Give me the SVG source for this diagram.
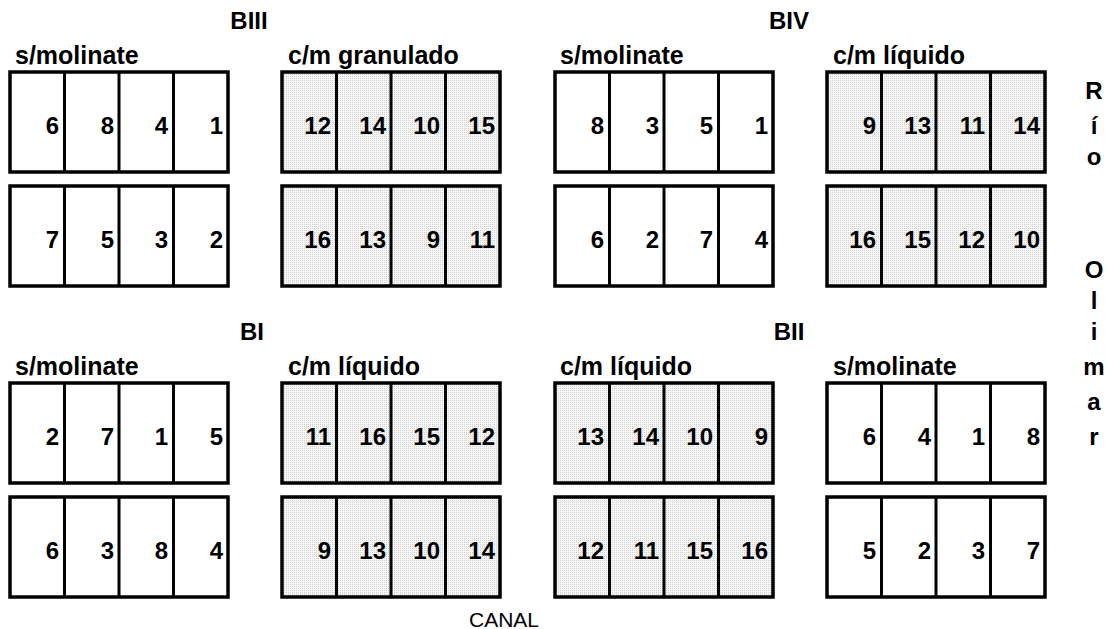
<svg xmlns="http://www.w3.org/2000/svg" width="1107" height="629" viewBox="0 0 1107 629">
<style>
text{font-family:"Liberation Sans",Arial,sans-serif;font-weight:bold;fill:#000}
.n{font-size:24px;text-anchor:end}
.l{font-size:25px}
.b{font-size:24px;text-anchor:middle}
.r{font-size:24px;text-anchor:middle}
.c{font-size:21px;font-weight:normal}
.box{stroke:#000;stroke-width:3.5}
.w{fill:#fff}
.s{fill:url(#dots)}
.d{stroke:#000;stroke-width:3}
</style>
<defs>
<pattern id="dots" width="2" height="2" patternUnits="userSpaceOnUse">
<rect width="2" height="2" fill="#f6f6f6"/>
<rect width="1" height="1" fill="#d2d2d2"/>
</pattern>
</defs>
<rect width="1107" height="629" fill="#fff"/>
<g id="labels">
<text class="b" x="249" y="29">BIII</text>
<text class="b" x="789" y="29">BIV</text>
<text class="l" x="15" y="64">s/molinate</text>
<text class="l" x="288" y="64">c/m granulado</text>
<text class="l" x="560" y="64">s/molinate</text>
<text class="l" x="833" y="64">c/m líquido</text>
<text class="b" x="252" y="340">BI</text>
<text class="b" x="789" y="340">BII</text>
<text class="l" x="15" y="375">s/molinate</text>
<text class="l" x="288" y="375">c/m líquido</text>
<text class="l" x="560" y="375">c/m líquido</text>
<text class="l" x="833" y="375">s/molinate</text>
<text class="c" x="469" y="627">CANAL</text>
</g>
<g id="rio">
<text class="r" x="1094" y="99">R</text>
<text class="r" x="1094" y="134">í</text>
<text class="r" x="1094" y="165">o</text>
<text class="r" x="1094" y="278">O</text>
<text class="r" x="1094" y="309">l</text>
<text class="r" x="1094" y="340">i</text>
<text class="r" x="1094" y="375">m</text>
<text class="r" x="1094" y="410">a</text>
<text class="r" x="1094" y="445">r</text>
</g>
<g id="connectors"/>
<!-- Row 1 -->
<g id="r1b1"><rect class="box w" x="10" y="72" width="218" height="100"/><path class="d" d="M64.5 72V172M119 72V172M173.5 72V172"/>
<text class="n" x="59" y="134">6</text><text class="n" x="114" y="134">8</text><text class="n" x="168" y="134">4</text><text class="n" x="223" y="134">1</text></g>
<g id="r1b2"><rect class="box s" x="282" y="72" width="218" height="100"/><path class="d" d="M336.5 72V172M391 72V172M445.5 72V172"/>
<text class="n" x="331" y="134">12</text><text class="n" x="386" y="134">14</text><text class="n" x="440" y="134">10</text><text class="n" x="495" y="134">15</text></g>
<g id="r1b3"><rect class="box w" x="555" y="72" width="218" height="100"/><path class="d" d="M609.5 72V172M664 72V172M718.5 72V172"/>
<text class="n" x="604" y="134">8</text><text class="n" x="659" y="134">3</text><text class="n" x="713" y="134">5</text><text class="n" x="768" y="134">1</text></g>
<g id="r1b4"><rect class="box s" x="827" y="72" width="218" height="100"/><path class="d" d="M881.5 72V172M936 72V172M990.5 72V172"/>
<text class="n" x="876" y="134">9</text><text class="n" x="931" y="134">13</text><text class="n" x="985" y="134">11</text><text class="n" x="1040" y="134">14</text></g>
<!-- Row 2 -->
<g id="r2b1"><rect class="box w" x="10" y="186" width="218" height="100"/><path class="d" d="M64.5 186V286M119 186V286M173.5 186V286"/>
<text class="n" x="59" y="248">7</text><text class="n" x="114" y="248">5</text><text class="n" x="168" y="248">3</text><text class="n" x="223" y="248">2</text></g>
<g id="r2b2"><rect class="box s" x="282" y="186" width="218" height="100"/><path class="d" d="M336.5 186V286M391 186V286M445.5 186V286"/>
<text class="n" x="331" y="248">16</text><text class="n" x="386" y="248">13</text><text class="n" x="440" y="248">9</text><text class="n" x="495" y="248">11</text></g>
<g id="r2b3"><rect class="box w" x="555" y="186" width="218" height="100"/><path class="d" d="M609.5 186V286M664 186V286M718.5 186V286"/>
<text class="n" x="604" y="248">6</text><text class="n" x="659" y="248">2</text><text class="n" x="713" y="248">7</text><text class="n" x="768" y="248">4</text></g>
<g id="r2b4"><rect class="box s" x="827" y="186" width="218" height="100"/><path class="d" d="M881.5 186V286M936 186V286M990.5 186V286"/>
<text class="n" x="876" y="248">16</text><text class="n" x="931" y="248">15</text><text class="n" x="985" y="248">12</text><text class="n" x="1040" y="248">10</text></g>
<!-- Row 3 -->
<g id="r3b1"><rect class="box w" x="10" y="383" width="218" height="100"/><path class="d" d="M64.5 383V483M119 383V483M173.5 383V483"/>
<text class="n" x="59" y="445">2</text><text class="n" x="114" y="445">7</text><text class="n" x="168" y="445">1</text><text class="n" x="223" y="445">5</text></g>
<g id="r3b2"><rect class="box s" x="282" y="383" width="218" height="100"/><path class="d" d="M336.5 383V483M391 383V483M445.5 383V483"/>
<text class="n" x="331" y="445">11</text><text class="n" x="386" y="445">16</text><text class="n" x="440" y="445">15</text><text class="n" x="495" y="445">12</text></g>
<g id="r3b3"><rect class="box s" x="555" y="383" width="218" height="100"/><path class="d" d="M609.5 383V483M664 383V483M718.5 383V483"/>
<text class="n" x="604" y="445">13</text><text class="n" x="659" y="445">14</text><text class="n" x="713" y="445">10</text><text class="n" x="768" y="445">9</text></g>
<g id="r3b4"><rect class="box w" x="827" y="383" width="218" height="100"/><path class="d" d="M881.5 383V483M936 383V483M990.5 383V483"/>
<text class="n" x="876" y="445">6</text><text class="n" x="931" y="445">4</text><text class="n" x="985" y="445">1</text><text class="n" x="1040" y="445">8</text></g>
<!-- Row 4 -->
<g id="r4b1"><rect class="box w" x="10" y="497" width="218" height="100"/><path class="d" d="M64.5 497V597M119 497V597M173.5 497V597"/>
<text class="n" x="59" y="559">6</text><text class="n" x="114" y="559">3</text><text class="n" x="168" y="559">8</text><text class="n" x="223" y="559">4</text></g>
<g id="r4b2"><rect class="box s" x="282" y="497" width="218" height="100"/><path class="d" d="M336.5 497V597M391 497V597M445.5 497V597"/>
<text class="n" x="331" y="559">9</text><text class="n" x="386" y="559">13</text><text class="n" x="440" y="559">10</text><text class="n" x="495" y="559">14</text></g>
<g id="r4b3"><rect class="box s" x="555" y="497" width="218" height="100"/><path class="d" d="M609.5 497V597M664 497V597M718.5 497V597"/>
<text class="n" x="604" y="559">12</text><text class="n" x="659" y="559">11</text><text class="n" x="713" y="559">15</text><text class="n" x="768" y="559">16</text></g>
<g id="r4b4"><rect class="box w" x="827" y="497" width="218" height="100"/><path class="d" d="M881.5 497V597M936 497V597M990.5 497V597"/>
<text class="n" x="876" y="559">5</text><text class="n" x="931" y="559">2</text><text class="n" x="985" y="559">3</text><text class="n" x="1040" y="559">7</text></g>
</svg>
